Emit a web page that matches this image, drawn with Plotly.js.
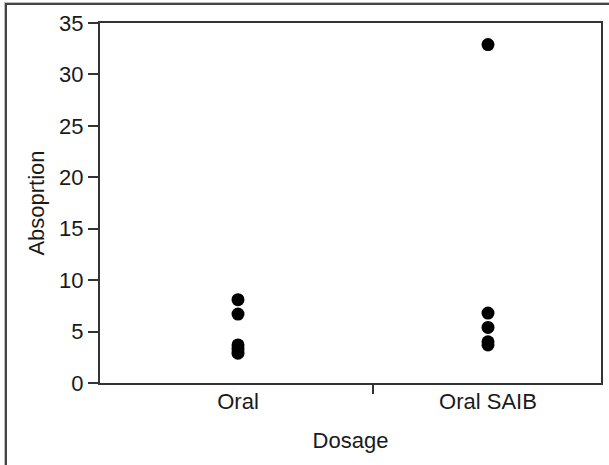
<!DOCTYPE html>
<html>
<head>
<meta charset="utf-8">
<script src="https://cdn.plot.ly/plotly-3.0.1.min.js"></script>
<style>
  html, body { margin: 0; padding: 0; background: #fff; }
  #wrap { position: relative; width: 609px; height: 465px; overflow: hidden; }
  #chart { position: absolute; left: 0; top: 0; width: 609px; height: 465px; }
  #frame { position: absolute; left: 5px; top: 3px; width: 700px; height: 600px;
           border-left: 2px solid #444; border-top: 2px solid #444;
           box-shadow: -1px -1px 0 #bbb; pointer-events: none; }
</style>
</head>
<body>
<div id="wrap">
  <div id="chart"></div>
  <div id="frame"></div>
</div>
<script>
// Dosage groups and absorption measurements
const dosageGroups = ['Oral', 'Oral SAIB'];
const oralAbsorption = [8.1, 6.7, 3.7, 3.3, 2.9];
const saibAbsorption = [32.9, 6.8, 5.4, 4.0, 3.7];
const yTicks = [0, 5, 10, 15, 20, 25, 30, 35];

const xs = [];
const ys = [];
oralAbsorption.forEach(v => { xs.push(dosageGroups[0]); ys.push(v); });
saibAbsorption.forEach(v => { xs.push(dosageGroups[1]); ys.push(v); });

const font = { family: 'Liberation Sans, Arial, sans-serif', size: 22, color: '#1a1a1a' };
const xRange = [-0.552, 1.452];

const data = [{
  type: 'scatter',
  mode: 'markers',
  x: xs,
  y: ys,
  marker: { color: '#000', size: 13 },
  hoverinfo: 'x+y'
}];

const layout = {
  width: 609,
  height: 465,
  margin: { l: 100, r: 8, t: 23, b: 82, pad: 0 },
  paper_bgcolor: '#fff',
  plot_bgcolor: '#fff',
  font: font,
  showlegend: false,
  xaxis: {
    type: 'category',
    categoryarray: dosageGroups,
    range: xRange,
    showgrid: false,
    zeroline: false,
    showline: true,
    linecolor: '#333',
    linewidth: 2,
    mirror: true,
    ticks: '',
    tickfont: font,
    ticklabelstandoff: -2,
    title: { text: 'Dosage', font: font, standoff: 19 },
    automargin: false
  },
  xaxis2: {
    type: 'linear',
    overlaying: 'x',
    range: xRange,
    showgrid: false,
    zeroline: false,
    showline: false,
    tickvals: [0.54],
    ticks: 'outside',
    ticklen: 10,
    tickwidth: 2,
    tickcolor: '#333',
    showticklabels: false,
    side: 'bottom'
  },
  yaxis: {
    range: [0, 35],
    tickvals: yTicks,
    showgrid: false,
    zeroline: false,
    showline: true,
    linecolor: '#333',
    linewidth: 2,
    mirror: true,
    ticks: 'outside',
    ticklen: 10,
    tickwidth: 2,
    tickcolor: '#333',
    tickfont: font,
    title: { text: 'Absoprtion', font: font, standoff: 8 },
    automargin: false
  }
};

// invisible trace to activate the secondary x-axis carrying the divider tick
data.push({
  type: 'scatter', x: [], y: [], xaxis: 'x2', yaxis: 'y',
  hoverinfo: 'skip', showlegend: false
});

Plotly.newPlot('chart', data, layout, { staticPlot: true, displayModeBar: false });
</script>
</body>
</html>
